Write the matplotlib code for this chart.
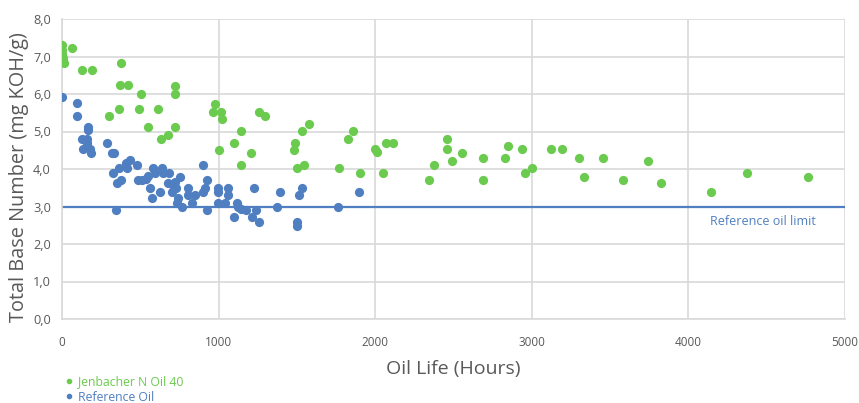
import matplotlib
matplotlib.use("Agg")
import matplotlib.pyplot as plt
from matplotlib.lines import Line2D
from matplotlib.ticker import FuncFormatter, MultipleLocator

plt.rcParams['font.family'] = ['Open Sans', 'DejaVu Sans']

jen_hours = [0, 0, 0, 6, 6, 13, 64, 127, 191, 376, 369, 420, 503, 720, 720,
             299, 363, 490, 611, 548, 720, 631, 675,
             975, 962, 1013, 1019, 1000, 1255, 1299, 1140, 1096, 1210, 1140,
             1580, 1535, 1490, 1484, 1548, 1503, 1860, 1828, 1771, 1904, 2000, 2013,
             2051, 2070, 2115, 2344, 2376, 2459, 2459, 2490, 2554, 2687, 2687,
             2828, 2847, 2936, 2955, 3000, 3121, 3191, 3299, 3331, 3452, 3580,
             3739, 3828, 4146, 4376, 4764]
jen_tbn = [7.31, 7.17, 7.07, 6.96, 6.88, 6.83, 7.22, 6.64, 6.64, 6.83, 6.24, 6.24, 6.00, 6.21, 6.00,
           5.41, 5.60, 5.60, 5.60, 5.12, 5.12, 4.80, 4.91,
           5.73, 5.52, 5.52, 5.33, 4.51, 5.52, 5.41, 5.01, 4.69, 4.43, 4.11,
           5.20, 5.01, 4.69, 4.51, 4.11, 4.03, 5.01, 4.80, 4.03, 3.89, 4.53, 4.45,
           3.89, 4.69, 4.69, 3.71, 4.11, 4.80, 4.53, 4.21, 4.43, 4.29, 3.71,
           4.29, 4.61, 4.53, 3.89, 4.03, 4.53, 4.53, 4.29, 3.79, 4.29, 3.71,
           4.21, 3.63, 3.39, 3.89, 3.79]

ref_hours = [0, 96, 96, 166, 166, 127, 159, 159, 134, 178, 185, 287, 318, 331, 325,
             363, 350, 376, 344, 408, 433, 478, 414, 484, 510, 535, 548, 561, 573,
             580, 592, 637, 643, 624, 682, 675, 701, 707, 726, 752, 720, 739, 732,
             764, 802, 802, 828, 847, 898, 924, 911, 898, 924, 994, 994, 994, 1038,
             1057, 1057, 1115, 1127, 1146, 1172, 1096, 1223, 1216, 1236, 1255,
             1376, 1395, 1503, 1503, 1516, 1535, 1764, 1898]
ref_tbn = [5.92, 5.76, 5.41, 5.12, 5.04, 4.80, 4.80, 4.69, 4.53, 4.53, 4.43, 4.69, 4.43, 4.43, 3.89,
           4.03, 3.63, 3.71, 2.91, 4.16, 4.24, 4.11, 4.03, 3.71, 3.71, 3.73, 3.81, 3.49, 3.23,
           4.03, 3.89, 4.03, 3.89, 3.39, 3.89, 3.63, 3.39, 3.57, 3.49, 3.79, 3.65, 3.23, 3.09,
           2.99, 3.49, 3.31, 3.09, 3.31, 4.11, 3.71, 3.49, 3.39, 2.91, 3.49, 3.39, 3.09, 3.09,
           3.49, 3.31, 3.09, 2.99, 2.93, 2.91, 2.72, 3.49, 2.72, 2.91, 2.59,
           2.99, 3.39, 2.59, 2.48, 3.31, 3.49, 2.99, 3.39]

ref_limit = 3.0
series_names = ["Jenbacher N Oil 40", "Reference Oil"]
limit_label = "Reference oil limit"

green = "#6BCB4F"
blue = "#4F7FC0"
gray = "#595959"
grid = "#D9D9D9"

fig = plt.figure(figsize=(8.59, 4.03), dpi=100)
ax = fig.add_axes([62/859, 1-319/403, 783/859, 300/403])

ax.scatter(jen_hours, jen_tbn, s=44, color=green, linewidths=0, zorder=3)
ax.scatter(ref_hours, ref_tbn, s=44, color=blue, linewidths=0, zorder=3)
ax.plot([0, 5000], [ref_limit, ref_limit], color=blue, lw=1.6, zorder=2)
ax.text(4478, 2.59, limit_label, color=blue, fontsize=9, ha='center', va='center')

ax.set_xlim(0, 5000)
ax.set_ylim(0, 8)
ax.xaxis.set_major_locator(MultipleLocator(1000))
ax.yaxis.set_major_locator(MultipleLocator(1.0))
ax.yaxis.set_major_formatter(FuncFormatter(lambda v, p: f"{v:.1f}".replace('.', ',')))
ax.grid(True, color=grid, lw=1.2, zorder=0)
ax.set_axisbelow(True)
for s in ['top', 'right']:
    ax.spines[s].set_visible(False)
for s in ['left', 'bottom']:
    ax.spines[s].set_color(grid)
    ax.spines[s].set_linewidth(1.2)
ax.tick_params(length=0, colors=gray, labelsize=9.2, pad=8)
ax.tick_params(axis='x', pad=12, labelsize=8.5)

ax.set_xlabel("Oil Life (Hours)", fontsize=14, color=gray, labelpad=8)
ax.set_ylabel("Total Base Number (mg KOH/g)", fontsize=14.3, color=gray)
ax.yaxis.set_label_coords(-33/783, 0.473)

handles = [Line2D([], [], marker='o', ls='', color=green, markersize=3),
           Line2D([], [], marker='o', ls='', color=blue, markersize=3)]
fig.legend(handles, series_names, loc='upper left', bbox_to_anchor=(58/859, 1-369/403),
           frameon=False, fontsize=8.8, labelcolor=[green, blue], handletextpad=0.3,
           handlelength=0.8, borderpad=0, labelspacing=0.2)

fig.savefig("out.png", dpi=100)
